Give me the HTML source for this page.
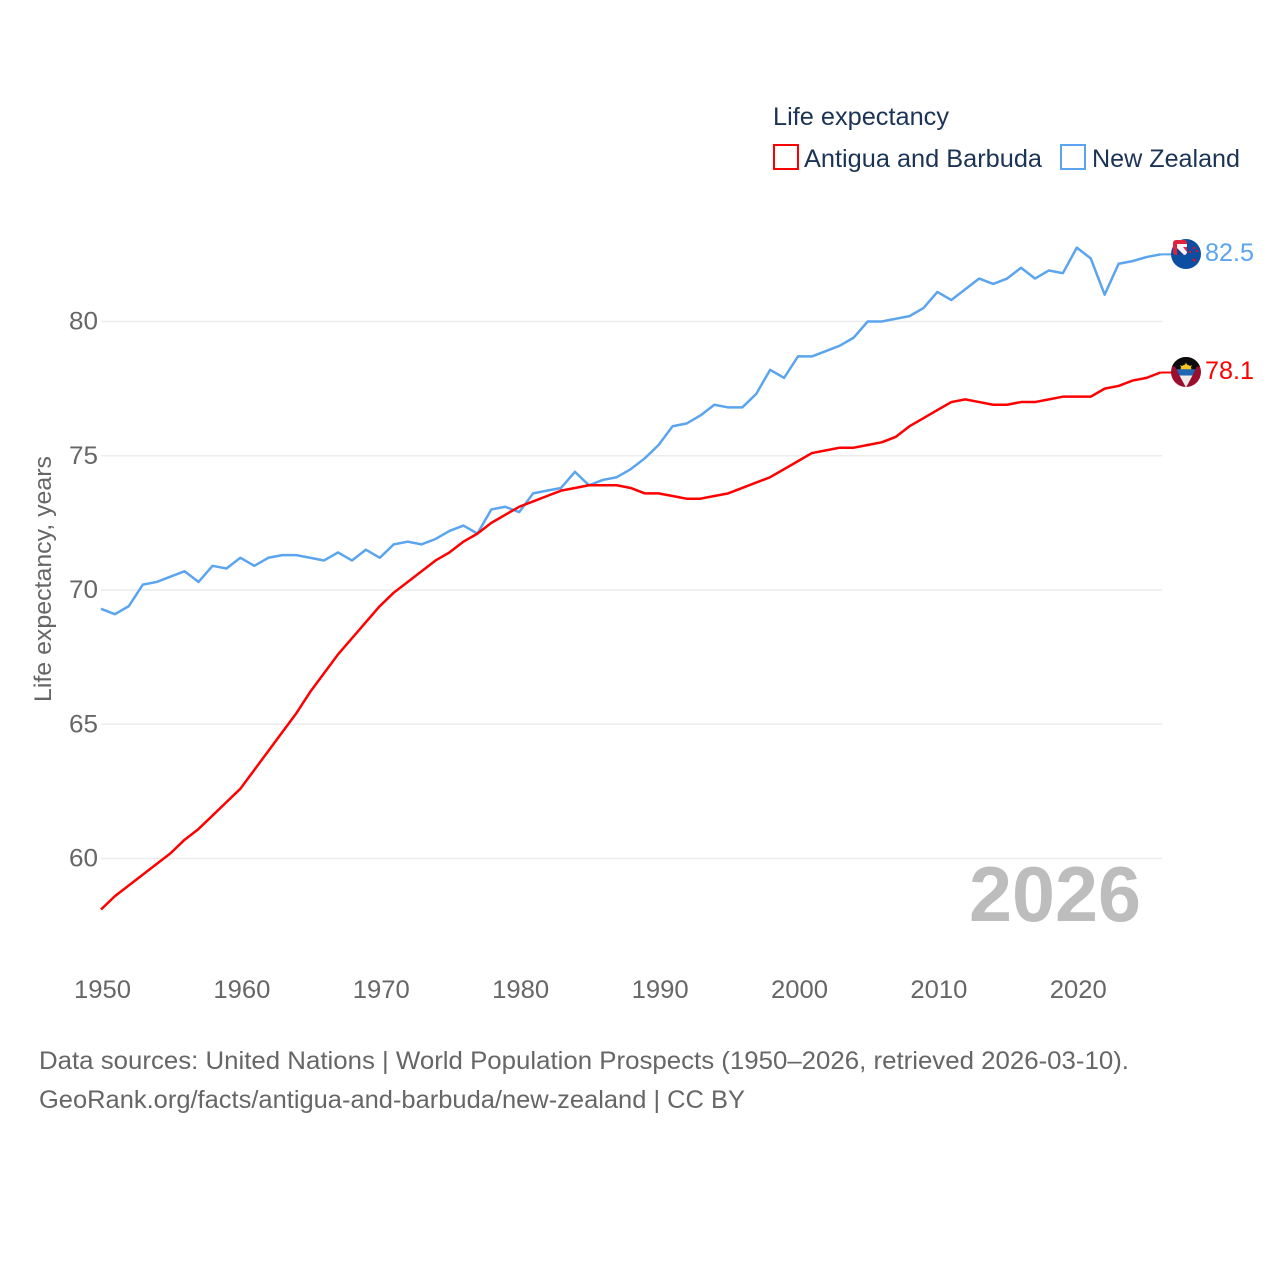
<!DOCTYPE html>
<html lang="en">
<head>
<meta charset="utf-8">
<title>Life expectancy: Antigua and Barbuda vs New Zealand</title>
<style>
html,body{margin:0;padding:0;background:#fff;}
svg{display:block;}
text{font-family:"Liberation Sans",sans-serif;}
</style>
</head>
<body>
<svg id="chart" xmlns="http://www.w3.org/2000/svg" width="1280" height="1280" viewBox="0 0 1280 1280">
  <rect width="1280" height="1280" fill="#fff"/>
  <g id="grid"></g>
  <g id="yticks"></g>
  <g id="xticks"></g>
  <text x="969" y="921" font-size="78" font-weight="700" fill="#bdbdbd" textLength="172" lengthAdjust="spacingAndGlyphs">2026</text>
  <text transform="translate(51,702) rotate(-90)" font-size="24" fill="#666" textLength="246" lengthAdjust="spacingAndGlyphs">Life expectancy, years</text>
  <g id="series"></g>

  <g>
    <circle cx="1186" cy="254" r="15" fill="#0b4ea2"/>
    <clipPath id="clipNzCanton"><rect x="1173" y="240" width="14" height="15" rx="3"/></clipPath>
    <g clip-path="url(#clipNzCanton)">
      <rect x="1173" y="240" width="14" height="15" fill="#e0223c"/>
      <rect x="1177" y="244" width="10" height="11" fill="#f6f6fa"/>
      <path d="M1177 248L1184 255H1177Z" fill="#1a3f8f"/>
      <path d="M1187 247L1187 252L1183 247Z" fill="#e0223c"/>
    </g>
    <circle cx="1190" cy="252" r="1.300" fill="#d8102f"/>
    <circle cx="1194" cy="248" r="1.300" fill="#d8102f"/>
    <circle cx="1197" cy="251" r="1.200" fill="#d8102f"/>
    <circle cx="1194" cy="260" r="1.500" fill="#d8102f"/>
  </g>
  <g>
    <clipPath id="clipAg"><circle cx="1186" cy="372" r="15"/></clipPath>
    <g clip-path="url(#clipAg)">
      <rect x="1171" y="357" width="30" height="30" fill="#9a0f2e"/>
      <path d="M1171 357H1201V366.500H1197L1186 387L1175 366.500H1171Z" fill="#0c0c0c"/>
      <circle cx="1186" cy="370" r="5.500" fill="#f7c51e"/>
      <path d="M1186 362.500L1187.500 366H1184.500ZM1180 365L1183 366.500L1181.500 368ZM1192 365L1189 366.500L1190.500 368Z" fill="#f7c51e"/>
      <path d="M1176.500 369.300H1195.500L1192.500 375.500H1179.500Z" fill="#1f66b5"/>
      <path d="M1179.500 375.500H1192.500L1186 387.500Z" fill="#ececec"/>
    </g>
  </g>
  <text x="1205" y="261" font-size="25" fill="#5ba4ee" textLength="49" lengthAdjust="spacingAndGlyphs">82.5</text>
  <text x="1205" y="379" font-size="25" fill="#ff0000" textLength="49" lengthAdjust="spacingAndGlyphs">78.1</text>

  <g>
    <text x="773" y="125" font-size="25" fill="#1b3354" textLength="176" lengthAdjust="spacingAndGlyphs">Life expectancy</text>
    <g>
      <rect x="774" y="145" width="24" height="24" fill="#fff" stroke="#ff0000" stroke-width="2"/>
      <text x="804" y="167" font-size="25" fill="#1b3354" textLength="238" lengthAdjust="spacingAndGlyphs">Antigua and Barbuda</text>
    </g>
    <g>
      <rect x="1061" y="145" width="24" height="24" fill="#fff" stroke="#5ba4ee" stroke-width="2"/>
      <text x="1092" y="167" font-size="25" fill="#1b3354" textLength="148" lengthAdjust="spacingAndGlyphs">New Zealand</text>
    </g>
  </g>

  <g>
    <text x="39" y="1069" font-size="25" fill="#666" textLength="1090" lengthAdjust="spacingAndGlyphs">Data sources: United Nations | World Population Prospects (1950–2026, retrieved 2026-03-10).</text>
    <text x="39" y="1108" font-size="25" fill="#666" textLength="706" lengthAdjust="spacingAndGlyphs">GeoRank.org/facts/antigua-and-barbuda/new-zealand | CC BY</text>
  </g>
</svg>
<script>
const years = [1950,1951,1952,1953,1954,1955,1956,1957,1958,1959,1960,1961,1962,1963,1964,1965,1966,1967,1968,1969,1970,1971,1972,1973,1974,1975,1976,1977,1978,1979,1980,1981,1982,1983,1984,1985,1986,1987,1988,1989,1990,1991,1992,1993,1994,1995,1996,1997,1998,1999,2000,2001,2002,2003,2004,2005,2006,2007,2008,2009,2010,2011,2012,2013,2014,2015,2016,2017,2018,2019,2020,2021,2022,2023,2024,2025,2026];
const newZealand = [69.3,69.1,69.4,70.2,70.3,70.5,70.7,70.3,70.9,70.8,71.2,70.9,71.2,71.3,71.3,71.2,71.1,71.4,71.1,71.5,71.2,71.7,71.8,71.7,71.9,72.2,72.4,72.1,73.0,73.1,72.9,73.6,73.7,73.8,74.4,73.9,74.1,74.2,74.5,74.9,75.4,76.1,76.2,76.5,76.9,76.8,76.8,77.3,78.2,77.9,78.7,78.7,78.9,79.1,79.4,80.0,80.0,80.1,80.2,80.5,81.1,80.8,81.2,81.6,81.4,81.6,82.0,81.6,81.9,81.8,82.75,82.35,81.0,82.15,82.25,82.4,82.5];
const antigua = [58.1,58.6,59.0,59.4,59.8,60.2,60.7,61.1,61.6,62.1,62.6,63.3,64.0,64.7,65.4,66.2,66.9,67.6,68.2,68.8,69.4,69.9,70.3,70.7,71.1,71.4,71.8,72.1,72.5,72.8,73.1,73.3,73.5,73.7,73.8,73.9,73.9,73.9,73.8,73.6,73.6,73.5,73.4,73.4,73.5,73.6,73.8,74.0,74.2,74.5,74.8,75.1,75.2,75.3,75.3,75.4,75.5,75.7,76.1,76.4,76.7,77.0,77.1,77.0,76.9,76.9,77.0,77.0,77.1,77.2,77.2,77.2,77.5,77.6,77.8,77.9,78.1];
const yTickValues = [60,65,70,75,80];
const xTickValues = [1950,1960,1970,1980,1990,2000,2010,2020];

const NS = 'http://www.w3.org/2000/svg';
function xScale(year){ return 101 + (year - 1950) * 13.94; }
function yScale(value){ return 858.5 - (value - 60) * 26.85; }
function make(tag, attrs, parent){
  const el = document.createElementNS(NS, tag);
  for (const k in attrs) el.setAttribute(k, attrs[k]);
  parent.appendChild(el);
  return el;
}
const gridG = document.getElementById('grid');
const yG = document.getElementById('yticks');
const xG = document.getElementById('xticks');
const seriesG = document.getElementById('series');

yTickValues.forEach(function(v){
  const line = make('line', {x1:101, x2:1162, y1:yScale(v), y2:yScale(v), stroke:'#ececec', 'stroke-width':1.5}, gridG);
  
  
  const t = make('text', {x:98, y:yScale(v) + 8, 'text-anchor':'end', 'font-size':25, fill:'#666', textLength:29, lengthAdjust:'spacingAndGlyphs'}, yG);
  
  
  t.textContent = v;
});
xTickValues.forEach(function(v){
  const t = make('text', {x:xScale(v) + 1.5, y:998, 'text-anchor':'middle', 'font-size':25, fill:'#666', textLength:57, lengthAdjust:'spacingAndGlyphs'}, xG);
  
  
  t.textContent = v;
});
function drawSeries(values, color, name){
  const pts = years.map(function(y, i){ return xScale(y).toFixed(2) + ',' + yScale(values[i]).toFixed(2); }).join(' ');
  const line = make('polyline', {points:pts, fill:'none', stroke:color, 'stroke-width':2.5, 'stroke-linejoin':'round'}, seriesG);
  
  
  const last = values[values.length - 1];
  const lastYear = years[years.length - 1];
  const leader = make('line', {x1:xScale(lastYear), x2:xScale(lastYear) + 11, y1:yScale(last), y2:yScale(last), stroke:color, 'stroke-width':2}, seriesG);
  
  
}
drawSeries(newZealand, '#5ba4ee', 'new-zealand');
drawSeries(antigua, '#ff0000', 'antigua-and-barbuda');
</script>
</body>
</html>
